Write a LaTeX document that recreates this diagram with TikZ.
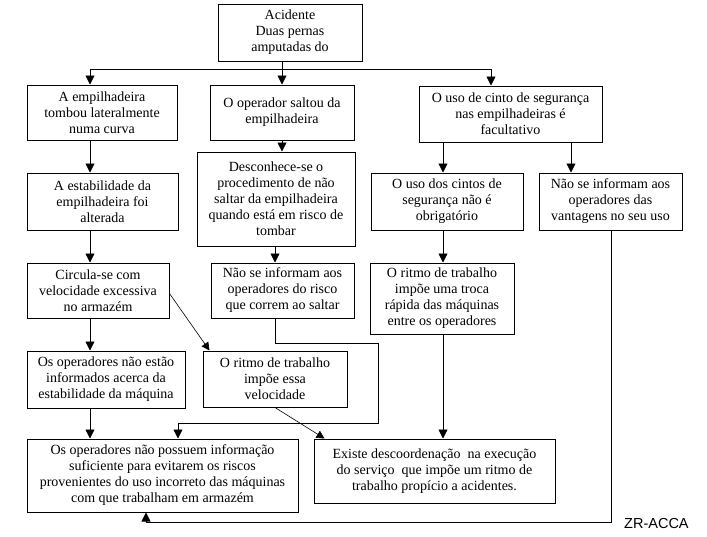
\documentclass[tikz,border=0pt]{standalone}
\usepackage{fontspec}
\setmainfont{Liberation Serif}
\newfontfamily\tagfont{Liberation Sans}
\usetikzlibrary{arrows.meta}

\begin{document}
\begin{tikzpicture}[x=1pt, y=-1pt,
	box/.style={draw, line width=1pt, rectangle, align=center, inner sep=0pt, font=\fontsize{14}{16}\selectfont},
	arr/.style={line width=0.8pt, -{Triangle[width=9pt,length=9pt]}},
	thinarr/.style={line width=0.6pt, -{Triangle[width=8pt,length=8pt]}},
	wire/.style={line width=0.8pt}]
	\useasboundingbox (0,0) rectangle (707,536);
	% Boxes:
	\node[box, minimum width=144pt, minimum height=57pt] (top) at (290,32.5) {Acidente\\Duas pernas\\amputadas do};
	\node[box, minimum width=150pt, minimum height=55pt] (a1) at (102,112.5) {A empilhadeira\\tombou lateralmente\\numa curva};
	\node[box, minimum width=144pt, minimum height=55pt] (b1) at (282,112.5) {O operador saltou da\\empilhadeira};
	\node[box, minimum width=183pt, minimum height=56pt] (c1) at (510.5,114) {O uso de cinto de segurança\\nas empilhadeiras é\\facultativo};
	\node[box, minimum width=151pt, minimum height=57pt] (a2) at (102.5,201.5) {A estabilidade da\\empilhadeira foi\\alterada};
	\node[box, minimum width=158pt, minimum height=94pt] (b2) at (276,199) {Desconhece-se o\\procedimento de não\\saltar da empilhadeira\\quando está em risco de\\tombar};
	\node[box, minimum width=152pt, minimum height=57pt] (c2) at (447,201.5) {O uso dos cintos de\\segurança não é\\obrigatório};
	\node[box, minimum width=143pt, minimum height=57pt] (d2) at (610.5,201.5) {Não se informam aos\\operadores das\\vantagens no seu uso};
	\node[box, minimum width=142pt, minimum height=55pt] (a3) at (98,290.5) {Circula-se com\\velocidade excessiva\\no armazém};
	\node[box, minimum width=143pt, minimum height=55pt] (b3) at (282.5,290.5) {Não se informam aos\\operadores do risco\\que correm ao saltar};
	\node[box, minimum width=144pt, minimum height=71pt] (c3) at (442,298.5) {O ritmo de trabalho\\impõe uma troca\\rápida das máquinas\\entre os operadores};
	\node[box, minimum width=158pt, minimum height=57pt] (a4) at (106,379.5) {Os operadores não estão\\informados acerca da\\estabilidade da máquina};
	\node[box, minimum width=144pt, minimum height=56pt] (b4) at (275,379) {O ritmo de trabalho\\impõe essa\\velocidade};
	\node[box, minimum width=271pt, minimum height=73pt] (e) at (162.5,475.5) {Os operadores não possuem informação\\suficiente para evitarem os riscos\\provenientes do uso incorreto das máquinas\\com que trabalham em armazém};
	\node[box, minimum width=241pt, minimum height=64pt] (f) at (434.5,471) {Existe descoordenação \ na execução\\do serviço \ que impõe um ritmo de\\trabalho propício a acidentes.};
	\node[font=\tagfont\fontsize{14.5}{16}\selectfont, anchor=base west, inner sep=0pt] (tag) at (624,528) {ZR-ACCA};

	% Column and bend points:
	\coordinate (ca) at (90,0);
	\coordinate (cb) at (282,0);
	\coordinate (cb2) at (275,0);
	\coordinate (cc) at (443,0);
	\coordinate (cd) at (491,0);
	\coordinate (cd2) at (571,0);
	\coordinate (cr) at (611,0);
	\coordinate (split) at (282,69);
	\coordinate (k1) at (378,343);
	\coordinate (k2) at (178,423);
	\coordinate (low) at (146,522);

	% Connectors:
	\draw[arr] (top.south -| cb) -- (b1.north -| cb);
	\draw[wire] (split -| ca) -- (split -| cd);
	\draw[arr] (split -| ca) -- (a1.north -| ca);
	\draw[arr] (split -| cd) -- (c1.north -| cd);
	\draw[arr] (a1.south -| ca) -- (a2.north -| ca);
	\draw[arr] (a2.south -| ca) -- (a3.north -| ca);
	\draw[arr] (a3.south -| ca) -- (a4.north -| ca);
	\draw[arr] (a4.south -| ca) -- (e.north -| ca);
	\draw[arr] (b1.south -| cb) -- (b2.north -| cb);
	\draw[arr] (b2.south -| cb2) -- (b3.north -| cb2);
	\draw[arr] (b3.south -| cb2) |- (k1) |- (k2) -- (e.north -| k2);
	\draw[thinarr] ([yshift=-3pt]a3.east) -- ([xshift=7pt]b4.north west);
	\draw[thinarr] (b4.south) -- ([xshift=11pt]f.north west);
	\draw[arr] (c1.south -| cc) -- (c2.north -| cc);
	\draw[arr] (c1.south -| cd2) -- (d2.north -| cd2);
	\draw[arr] (c2.south -| cc) -- (c3.north -| cc);
	\draw[arr] (c3.south -| cc) -- (f.north -| cc);
	\draw[arr] (d2.south -| cr) |- (low) -- (e.south -| low);
\end{tikzpicture}
\end{document}
